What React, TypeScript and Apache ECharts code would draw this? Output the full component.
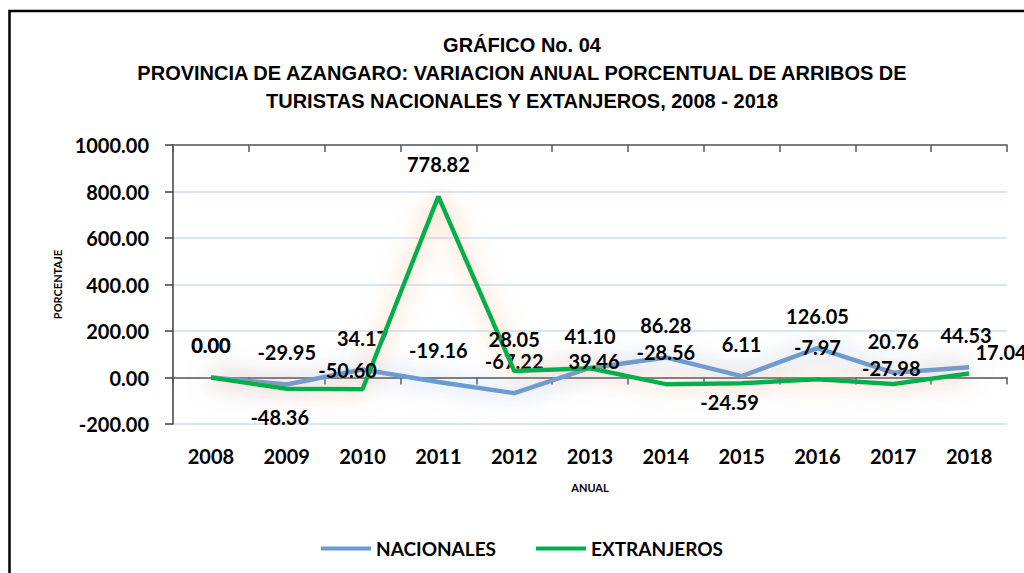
import React, { useEffect, useRef } from "react";
import * as echarts from "echarts";

const years = ["2008", "2009", "2010", "2011", "2012", "2013", "2014", "2015", "2016", "2017", "2018"];
const nacionales = [0, -29.95, 34.17, -19.16, -67.22, 41.1, 86.28, 6.11, 126.05, 20.76, 44.53];
const extranjeros = [0, -48.36, -50.6, 778.82, 28.05, 39.46, -28.56, -24.59, -7.97, -27.98, 17.04];
// label nudges (dx, dy) relative to the default "top" placement
const nacLabelShift = [[0, 0], [0, 0], [0, 0], [0, 0], [0, 0], [0, 0], [0, 0], [0, 0], [0, 0], [0, 0], [-3, 0]];
const extLabelShift = [[0, 0], [-7, 60], [-15, 13], [0, 0], [0, 0], [4, 25], [0, 0], [-12, 51], [0, 0], [-2, 16], [32, 11]];

const titleLines = [
  "GRÁFICO No. 04",
  "PROVINCIA DE AZANGARO: VARIACION ANUAL PORCENTUAL DE ARRIBOS DE",
  "TURISTAS NACIONALES Y EXTANJEROS, 2008 - 2018",
];

const FONT = "Lato, 'Noto Sans', sans-serif";
const NARROW = "'Liberation Sans Narrow', 'Arial Narrow', 'Liberation Sans', sans-serif";
const BLUE = "#6A9BD3";
const GREEN = "#00B050";

export default function App() {
  const ref = useRef<HTMLDivElement>(null);
  useEffect(() => {
    document.body.style.margin = "0";
    const chart = echarts.init(ref.current!, null, { renderer: "svg" });
    const labelCfg = () => ({
      show: true,
      position: "top",
      distance: 22,
      color: "#000",
      opacity: 1,
      fontFamily: FONT,
      fontWeight: "bold",
      fontSize: 20,
      formatter: (p: any) => Number(p.value).toFixed(2),
    });
    const layoutFor = (shifts: number[][]) => (p: any) => ({
      dx: shifts[p.dataIndex][0],
      dy: shifts[p.dataIndex][1],
      hideOverlap: false,
    });
    chart.setOption({
      animation: false,
      backgroundColor: "#fff",
      graphic: [
        {
          type: "rect",
          shape: { x: 9.5, y: 11, width: 1200, height: 800 },
          style: { fill: "none", stroke: "#000", lineWidth: 2.5 },
          silent: true,
        },
        {
          type: "text",
          x: 522,
          y: 73,
          style: {
            text: titleLines.join("\n"),
            align: "center",
            verticalAlign: "middle",
            fontFamily: NARROW,
            fontWeight: "bold",
            fontSize: 20,
            lineHeight: 28,
            fill: "#000",
          },
        },
      ],
      legend: {
        left: 316,
        top: 534,
        icon: "rect",
        itemWidth: 50,
        itemHeight: 4,
        itemGap: 40,
        textStyle: { fontFamily: FONT, fontWeight: "bold", fontSize: 19, color: "#000" },
        data: [
          { name: "NACIONALES", itemStyle: { color: BLUE, opacity: 1 } },
          { name: "EXTRANJEROS", itemStyle: { color: GREEN, opacity: 1 } },
        ],
      },
      grid: { left: 173, right: 17, top: 145, bottom: 149, containLabel: false },
      xAxis: [
        {
          type: "category",
          data: years,
          boundaryGap: true,
          axisLine: { onZero: true, lineStyle: { color: "#595959", width: 1.5 } },
          axisTick: { show: true, length: 7, lineStyle: { color: "#595959", width: 1.5 } },
          axisLabel: { show: false },
          splitLine: { show: false },
        },
        {
          type: "category",
          data: years,
          boundaryGap: true,
          axisLine: { onZero: true, lineStyle: { color: "#595959", width: 1.5 } },
          axisTick: { show: true, inside: true, length: 7, lineStyle: { color: "#595959", width: 1.5 } },
          axisLabel: { show: false },
          splitLine: { show: false },
        },
        {
          type: "category",
          data: years,
          position: "bottom",
          boundaryGap: true,
          axisLine: { show: false, onZero: false },
          axisTick: { show: false },
          axisLabel: { margin: 22, color: "#000", fontFamily: FONT, fontWeight: "bold", fontSize: 20 },
          name: "ANUAL",
          nameLocation: "middle",
          nameGap: 58,
          nameTextStyle: { color: "#000", fontFamily: FONT, fontWeight: "bold", fontSize: 11 },
        },
      ],
      yAxis: [
        {
          type: "value",
          min: -200,
          max: 1000,
          interval: 200,
          axisLine: { show: true, lineStyle: { color: "#404040", width: 1.5 } },
          axisTick: { show: true, length: 8, lineStyle: { color: "#404040", width: 1.5 } },
          axisLabel: {
            margin: 24,
            color: "#000",
            fontFamily: FONT,
            fontWeight: "bold",
            fontSize: 20,
            formatter: (v: number) => v.toFixed(2),
          },
          splitLine: { show: true, lineStyle: { color: "#DAE5F4", width: 2 } },
          name: "PORCENTAJE",
          nameLocation: "middle",
          nameRotate: 90,
          nameGap: 110,
          nameTextStyle: { color: "#000", fontFamily: FONT, fontWeight: "bold", fontSize: 11 },
        },
      ],
      series: [
        {
          name: "NACIONALES",
          type: "line",
          xAxisIndex: 0,
          data: nacionales,
          symbol: "circle",
          symbolSize: 0.1,
          showSymbol: true,
          itemStyle: { color: BLUE },
          color: BLUE,
          lineStyle: { width: 4.5, color: BLUE, shadowBlur: 24, shadowColor: "rgba(110,155,215,0.75)" },
          label: labelCfg(),
          labelLayout: layoutFor(nacLabelShift),
          z: 3,
        },
        {
          name: "EXTRANJEROS",
          type: "line",
          xAxisIndex: 0,
          data: extranjeros,
          symbol: "circle",
          symbolSize: 0.1,
          showSymbol: true,
          itemStyle: { color: GREEN },
          color: GREEN,
          lineStyle: { width: 4.5, color: GREEN, shadowBlur: 24, shadowColor: "rgba(245,150,80,0.75)" },
          label: labelCfg(),
          labelLayout: layoutFor(extLabelShift),
          z: 4,
        },
      ],
    });
    return () => chart.dispose();
  }, []);
  return <div ref={ref} style={{ width: 1024, height: 573 }} />;
}
